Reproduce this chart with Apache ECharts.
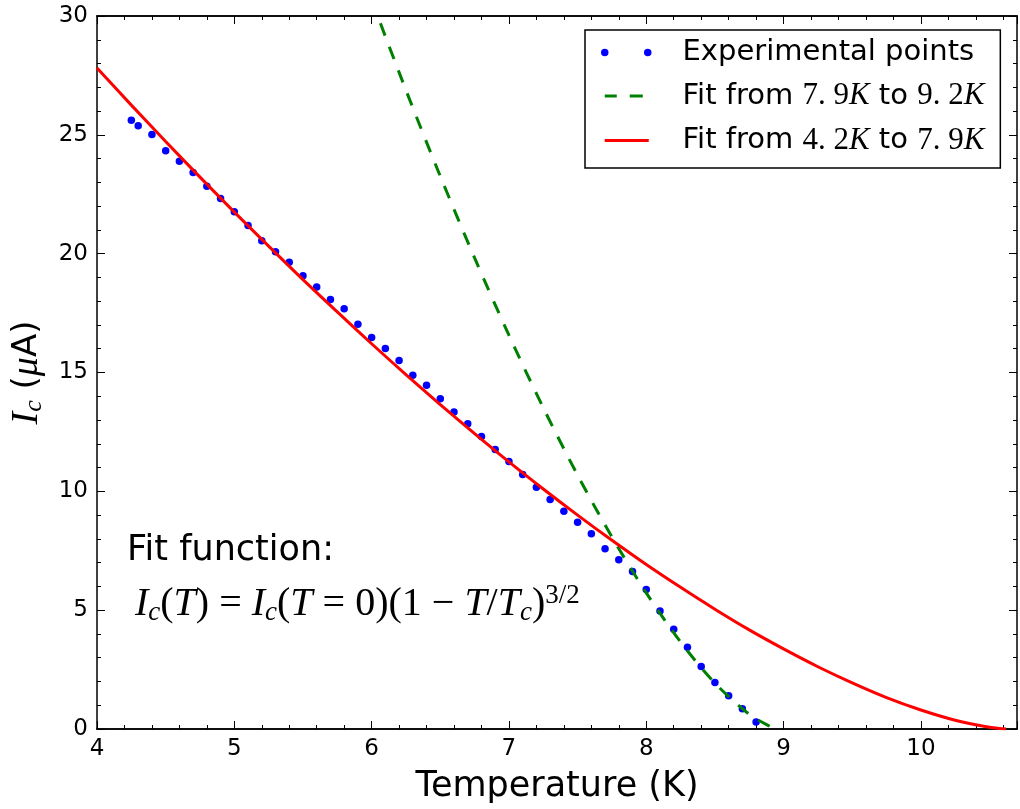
<!DOCTYPE html>
<html><head><meta charset="utf-8">
<script src="https://cdn.jsdelivr.net/npm/echarts@6/dist/echarts.min.js"></script>
<style>html,body{margin:0;padding:0;background:#fff}#c{width:1020px;height:809px}</style>
</head><body><div id="c"></div>
<script>
// Experimental points
const expT = [4.25,4.30,4.40,4.50,4.60,4.70,4.80,4.90,5.00,5.10,5.20,5.30,5.40,5.50,5.60,5.70,5.80,5.90,6.00,6.10,6.20,6.30,6.40,6.50,6.60,6.70,6.80,6.90,7.00,7.10,7.20,7.30,7.40,7.50,7.60,7.70,7.80,7.90,8.00,8.10,8.20,8.30,8.40,8.50,8.60,8.70,8.80];
const expIc = [25.61,25.38,25.01,24.33,23.89,23.41,22.84,22.32,21.76,21.19,20.54,20.08,19.64,19.07,18.60,18.07,17.68,17.03,16.47,16.01,15.50,14.88,14.46,13.90,13.34,12.84,12.31,11.76,11.26,10.71,10.17,9.66,9.16,8.70,8.22,7.58,7.12,6.63,5.87,4.96,4.20,3.44,2.63,1.96,1.40,0.85,0.29];
// Green dashed fit (7.9K to 9.2K)
const fitHighT = [6.00,6.25,6.50,6.75,7.00,7.25,7.50,7.75,8.00,8.25,8.50,8.75,8.90,8.93];
const fitHighIc = [30.67,26.88,23.26,19.82,16.57,13.52,10.68,8.08,5.73,3.66,1.93,0.62,0.11,0.05];
// Red solid fit (4.2K to 7.9K)
const fitLowT = [4.00,4.25,4.50,4.75,5.00,5.25,5.50,5.75,6.00,6.25,6.50,6.75,7.00,7.25,7.50,7.75,8.00,8.25,8.50,8.75,9.00,9.25,9.50,9.75,10.00,10.25,10.50,10.60,10.62];
const fitLowIc = [27.81,26.25,24.72,23.22,21.75,20.32,18.91,17.55,16.21,14.91,13.65,12.43,11.24,10.10,9.00,7.94,6.92,5.96,5.04,4.17,3.37,2.62,1.94,1.32,0.80,0.37,0.07,0.01,0.00];
// Axis ranges / ticks
const xRange = [4, 10.7];
const yRange = [0, 30];
const xMajor = 1, xMinor = 0.2, yMajor = 5;

const seriesNames = ['Experimental points', 'Fit from 7.9K to 9.2K', 'Fit from 4.2K to 7.9K'];

const zip = (a, b) => a.map((v, i) => [v, b[i]]);
const box = ' M-3.75,-4 L-3.75,-4 Z M47.75,4 L47.75,4 Z';
const icons = [
  'path://M-3.75,0 A3.75,3.75 0 1,0 3.75,0 A3.75,3.75 0 1,0 -3.75,0 Z M39.25,0 A3.75,3.75 0 1,0 46.75,0 A3.75,3.75 0 1,0 39.25,0 Z' + box,
  'path://M0,-1.5 L12,-1.5 L12,1.5 L0,1.5 Z M25,-1.5 L38,-1.5 L38,1.5 L25,1.5 Z' + box,
  'path://M0,-1.5 L44,-1.5 L44,1.5 L0,1.5 Z' + box
];
const legendLabels = {};
legendLabels[seriesNames[0]] = '{g|}{t|Experimental points}';
legendLabels[seriesNames[1]] = '{g|}{t|Fit from }{m|7. 9}{mi|K}{t| to }{m|9. 2}{mi|K}';
legendLabels[seriesNames[2]] = '{g|}{t|Fit from }{m|4. 2}{mi|K}{t| to }{m|7. 9}{mi|K}';

const black = '#000';
const intFmt = v => Math.abs(v - Math.round(v)) < 1e-6 ? String(Math.round(v)) : '';

function xAx(pos, interval, len, labels, extra) {
  return Object.assign({
    type: 'value', position: pos, min: xRange[0], max: xRange[1], interval: interval,
    axisLine: {show: true, onZero: false, lineStyle: {color: black, width: 1.5}},
    axisTick: {show: true, inside: true, length: len, lineStyle: {color: black, width: 1}},
    axisLabel: {show: labels, formatter: intFmt, color: black, fontSize: 23, margin: 9, fontFamily: 'DejaVu Sans'},
    splitLine: {show: false}
  }, extra || {});
}
function yAx(pos, labels, extra) {
  return Object.assign({
    type: 'value', position: pos, min: yRange[0], max: yRange[1], interval: yMajor,
    axisLine: {show: true, onZero: false, lineStyle: {color: black, width: 1.5}},
    axisTick: {show: true, inside: true, length: 8, lineStyle: {color: black, width: 1}},
    minorTick: {show: true, splitNumber: 5, length: 4, lineStyle: {color: black, width: 1}},
    axisLabel: {show: labels, color: black, fontSize: 23, margin: 9, fontFamily: 'DejaVu Sans'},
    splitLine: {show: false}
  }, extra || {});
}

const chart = echarts.init(document.getElementById('c'), null, {renderer: 'canvas'});
chart.setOption({
  animation: false,
  backgroundColor: '#fff',
  textStyle: {fontFamily: 'DejaVu Sans'},
  grid: {left: 97, right: 3, top: 16, bottom: 80, containLabel: false},
  xAxis: [
    xAx('bottom', xMajor, 8, true, {
      name: 'Temperature (K)', nameLocation: 'middle', nameGap: 40,
      nameTextStyle: {fontSize: 35, color: black, fontFamily: 'DejaVu Sans'}
    }),
    xAx('bottom', xMinor, 4, false),
    xAx('top', xMajor, 8, false),
    xAx('top', xMinor, 4, false)
  ],
  yAxis: [
    yAx('left', true, {
      name: '{i|I}{s|c}{n| (}{mu|μ}{n|A)}', nameLocation: 'middle', nameRotate: 90, nameGap: 50,
      nameTextStyle: {
        color: black,
        rich: {
          i: {fontFamily: 'Liberation Serif', fontStyle: 'italic', fontSize: 38, lineHeight: 40, color: black},
          s: {fontFamily: 'Liberation Serif', fontStyle: 'italic', fontSize: 26, lineHeight: 22, verticalAlign: 'bottom', color: black},
          n: {fontFamily: 'DejaVu Sans', fontSize: 34, lineHeight: 40, color: black},
          mu: {fontFamily: 'Liberation Serif', fontStyle: 'italic', fontSize: 38, lineHeight: 40, color: black}
        }
      }
    }),
    yAx('right', false)
  ],
  legend: {
    show: true, selectedMode: false, orient: 'vertical',
    left: 585, top: 30,
    padding: [8, 16, 12, 16],
    itemGap: 13.5, itemWidth: 51.5, itemHeight: 8, symbolKeepAspect: true,
    backgroundColor: '#fff', borderColor: black, borderWidth: 1.5, borderRadius: 0,
    data: seriesNames.map((n, i) => ({name: n, icon: icons[i]})),
    formatter: n => legendLabels[n],
    textStyle: {
      color: black,
      rich: {
        g: {width: 25},
        t: {fontFamily: 'DejaVu Sans', fontSize: 29, lineHeight: 30, color: black},
        m: {fontFamily: 'Liberation Serif', fontSize: 31, lineHeight: 30, color: black},
        mi: {fontFamily: 'Liberation Serif', fontStyle: 'italic', fontSize: 31, lineHeight: 30, color: black}
      }
    }
  },
  graphic: [
    {type: 'text', x: 127, y: 551, z: 100, style: {text: 'Fit function:', font: '35px "DejaVu Sans"', fill: black, verticalAlign: 'middle'}},
    {type: 'text', x: 135, y: 604, z: 100, style: {
      text: '{it|I}{sb|c}{rm|(}{it|T}{rm|) = }{it|I}{sb|c}{rm|(}{it|T}{rm| = 0)(1 − }{it|T}{rm|/}{it|T}{sb|c}{rm|)}{sp|3/2}',
      verticalAlign: 'middle', fill: black,
      rich: {
        it: {fontFamily: 'Liberation Serif', fontStyle: 'italic', fontSize: 40, lineHeight: 44, fill: black},
        rm: {fontFamily: 'Liberation Serif', fontSize: 40, lineHeight: 44, fill: black},
        sb: {fontFamily: 'Liberation Serif', fontStyle: 'italic', fontSize: 27, lineHeight: 22, verticalAlign: 'bottom', fill: black},
        sp: {fontFamily: 'Liberation Serif', fontSize: 27, lineHeight: 18, verticalAlign: 'top', fill: black}
      }
    }}
  ],
  series: [
    {name: seriesNames[0], type: 'scatter', xAxisIndex: 0, yAxisIndex: 0,
     data: zip(expT, expIc), symbol: 'circle', symbolSize: 7.5,
     itemStyle: {color: '#0000ff', opacity: 1}, z: 2},
    {name: seriesNames[1], type: 'line', xAxisIndex: 0, yAxisIndex: 0,
     data: zip(fitHighT, fitHighIc), showSymbol: false, symbol: 'none', smooth: 0.3, clip: true,
     itemStyle: {color: '#008000'},
     lineStyle: {color: '#008000', width: 3, type: [13, 12]}, z: 3},
    {name: seriesNames[2], type: 'line', xAxisIndex: 0, yAxisIndex: 0,
     data: zip(fitLowT, fitLowIc), showSymbol: false, symbol: 'none', smooth: 0.3, clip: true,
     itemStyle: {color: '#ff0000'},
     lineStyle: {color: '#ff0000', width: 3}, z: 4}
  ]
});
</script></body></html>
